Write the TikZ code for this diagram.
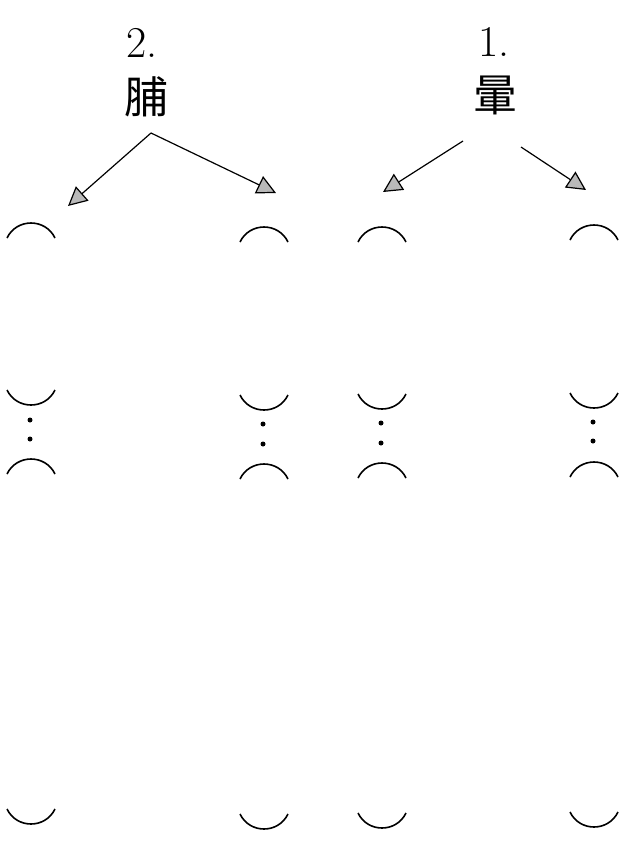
\documentclass[tikz,border=0pt]{standalone}
\usepackage{fontspec}
\usepackage{tikz}
\usetikzlibrary{arrows.meta}
\newfontfamily\cjk{Noto Sans CJK TC}

\tikzset{
  numlabel/.style={font=\fontsize{44}{48}\selectfont, inner sep=0pt},
  cjklabel/.style={font=\cjk\fontsize{44}{48}\selectfont, inner sep=0pt},
  pointer/.style={line width=1.2pt, -{Triangle[length=19pt,width=19pt,fill=gray!55]}},
  bowl/.style={line width=1.6pt},
}

\begin{document}
\begin{tikzpicture}[x=1pt, y=-1pt]
\useasboundingbox (0,0) rectangle (635,849);
 \node[numlabel] (n2) at (142,43) {2.};
 \node[cjklabel] (w2) at (146,97) {脯};
 \node[numlabel] (n1) at (494,42) {1.};
 \node[cjklabel] (w1) at (495,95) {暈};
 \coordinate (fork2) at (151,133);
 \coordinate (s1l) at (463,141);
 \coordinate (s1r) at (521,147);
 \coordinate (e2l) at (68,206);
 \coordinate (e2r) at (276,193);
 \coordinate (e1l) at (383,192);
 \coordinate (e1r) at (586,190);
 \draw[pointer] (fork2) -- (e2l);
 \draw[pointer] (fork2) -- (e2r);
 \draw[pointer] (s1l) -- (e1l);
 \draw[pointer] (s1r) -- (e1r);
% columns: centre / top cap / upper cup / lower cap / bottom cup
\foreach \cx/\ya/\yb/\yc/\yd in {31/238/390/474/809, 264/242/395/479/814, 382/242/394/478/813, 594/240/393/477/812}{
 \draw[bowl] ({\cx-24},\ya) .. controls ({\cx-14.3},{\ya-20}) and ({\cx+14.3},{\ya-20}) .. ({\cx+24},\ya);
 \draw[bowl] ({\cx-24},\yb) .. controls ({\cx-14.3},{\yb+20}) and ({\cx+14.3},{\yb+20}) .. ({\cx+24},\yb);
 \draw[bowl] ({\cx-24},\yc) .. controls ({\cx-14.3},{\yc-20}) and ({\cx+14.3},{\yc-20}) .. ({\cx+24},\yc);
 \draw[bowl] ({\cx-24},\yd) .. controls ({\cx-14.3},{\yd+20}) and ({\cx+14.3},{\yd+20}) .. ({\cx+24},\yd);
}
\foreach \cx/\da/\db in {30/420/439, 263/424/444, 381/423/443, 593/422/441}{
 \fill (\cx,\da) circle (2.5pt);
 \fill (\cx,\db) circle (2.5pt);
}
\end{tikzpicture}
\end{document}
